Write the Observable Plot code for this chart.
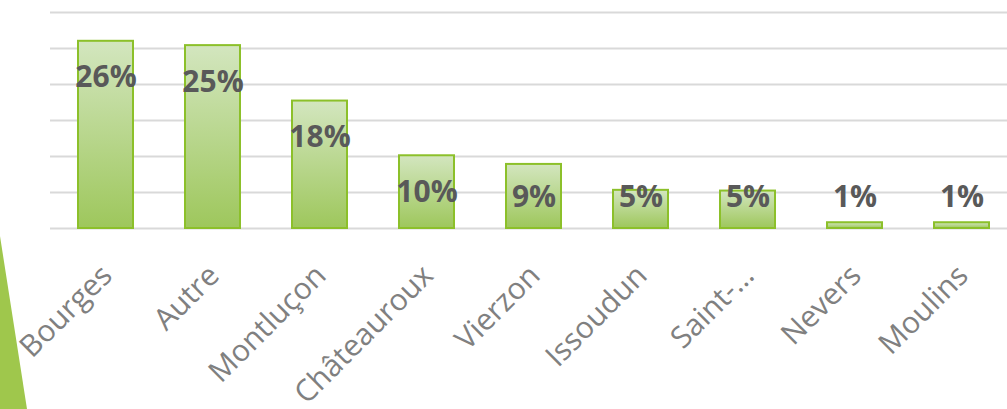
<!DOCTYPE html>
<html>
<head>
<meta charset="utf-8">
<script src="https://cdn.jsdelivr.net/npm/d3@7"></script>
<script src="https://cdn.jsdelivr.net/npm/@observablehq/plot@0.6"></script>
<style>
  html, body { margin: 0; padding: 0; background: #ffffff; }
  #wrap { position: relative; width: 1007px; height: 409px; overflow: hidden; }
  #deco { position: absolute; left: 0; top: 0; z-index: 0; }
  #chart { position: absolute; left: 0; top: 0; z-index: 1; }
</style>
</head>
<body>
<div id="wrap">
  <svg id="deco" width="1007" height="409"><polygon points="0,236 27,409 0,409" fill="#9fc74c"></polygon></svg>
  <div id="chart"></div>
</div>
<script>
const categories = ["Bourges", "Autre", "Montluçon", "Châteauroux", "Vierzon", "Issoudun", "Saint-…", "Nevers", "Moulins"];
const values = [26.0, 25.4, 17.7, 10.1, 8.9, 5.3, 5.2, 0.8, 0.8];
const gridTicks = [0, 5, 10, 15, 20, 25, 30];

const data = categories.map((c, i) => ({category: c, value: values[i]}));

const chart = Plot.plot({
  width: 1007,
  height: 409,
  marginTop: 12,
  marginBottom: 181,
  marginLeft: 50,
  marginRight: 0,
  style: {background: "transparent", color: "#808080", fontFamily: "'Open Sans', sans-serif", overflow: "visible"},
  x: {domain: categories, range: [50.4, 1015.2], paddingInner: 0.49, paddingOuter: 0.245, label: null},
  y: {domain: [0, 30], axis: null},
  marks: [
    Plot.ruleY(gridTicks, {stroke: "#d9d9d9", strokeWidth: 2}),
    Plot.barY(data, {x: "category", y: "value", fill: "url(#barGrad)", stroke: "#8cc02a", strokeWidth: 2}),
    Plot.text(data, {
      x: "category",
      y: d => Math.max(d.value - 6.4, 3.05),
      text: d => d3.format(".0f")(d.value) + "%",
      lineAnchor: "bottom",
      fontSize: 30,
      fontWeight: "bold",
      fill: "#595959",
      fontFamily: "'Open Sans', sans-serif"
    }),
    Plot.axisX({tickSize: 0, tickRotate: -45, tickPadding: 42, dx: 1, fontSize: 30, label: null, fill: "#808080"})
  ]
});

const defs = d3.select(chart).insert("defs", ":first-child");
const grad = defs.append("linearGradient").attr("id", "barGrad").attr("x1", 0).attr("y1", 0).attr("x2", 0).attr("y2", 1);
grad.append("stop").attr("offset", "0%").attr("stop-color", "#d3e6bf");
grad.append("stop").attr("offset", "100%").attr("stop-color", "#9ec75c");

document.getElementById("chart").appendChild(chart);
</script>
</body>
</html>
